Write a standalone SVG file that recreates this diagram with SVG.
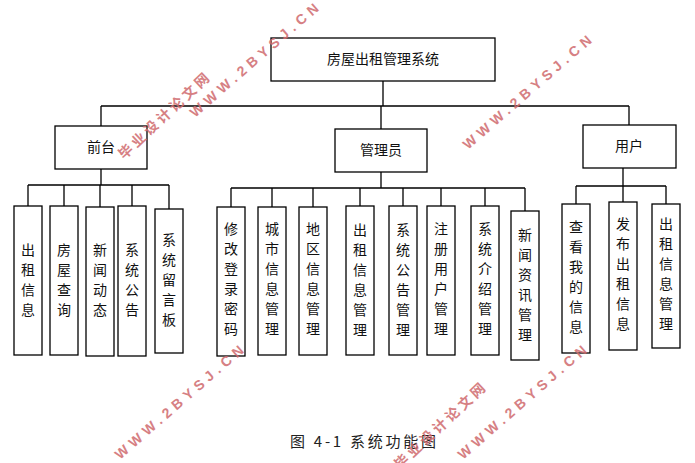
<svg xmlns="http://www.w3.org/2000/svg" width="695" height="463" viewBox="0 0 695 463">
<style>
.b{fill:#fff;stroke:#000;stroke-width:1.3}
.t{font-family:"Noto Sans CJK SC",sans-serif;font-size:14px;fill:#111;text-anchor:middle}
.v{font-family:"Noto Sans CJK SC",sans-serif;font-size:14px;fill:#111;text-anchor:middle}
.c{fill:none;stroke:#000;stroke-width:1.3}
.w{font-family:"Liberation Sans",sans-serif;font-weight:bold;font-size:14px;fill:#d06a6e;opacity:0.85}
.wc{font-family:"Noto Sans CJK SC",sans-serif;font-weight:bold;font-size:14px;fill:#d06a6e;opacity:0.85}
</style>
<rect width="695" height="463" fill="#fff"/>
<g id="connectors">
<path class="c" d="M383 81V106M101 106H629M101 106V126M381 106V129M629 106V125"/>
<path class="c" d="M101 169V185M28 185H169M28 185V206M64 185V206M100 185V207M132 185V206M169 185V209"/>
<path class="c" d="M381 172V188M231 188H525M231 188V207M272 188V207M313 188V207M360 188V206M403 188V206M441 188V206M485 188V206M525 188V211"/>
<path class="c" d="M623 168V186M576 186H666M576 186V204M623 186V202M666 186V204"/>
</g>
<g id="root"><rect class="b" x="271" y="38" width="224" height="43"/><text class="t" x="383" y="64">房屋出租管理系统</text></g>
<g id="qiantai"><rect class="b" x="55" y="126" width="92" height="43"/><text class="t" x="101" y="152">前台</text></g>
<g id="admin"><rect class="b" x="335" y="129" width="92" height="43"/><text class="t" x="381" y="155">管理员</text></g>
<g id="user"><rect class="b" x="583" y="125" width="93" height="43"/><text class="t" x="629" y="151">用户</text></g>
<g id="n1"><rect class="b" x="14" y="206" width="28" height="149"/><text class="v" x="28"><tspan x="28" y="255">出</tspan><tspan x="28" y="275">租</tspan><tspan x="28" y="295">信</tspan><tspan x="28" y="315">息</tspan></text></g>
<g id="n2"><rect class="b" x="50" y="206" width="28" height="149"/><text class="v"><tspan x="64" y="255">房</tspan><tspan x="64" y="275">屋</tspan><tspan x="64" y="295">查</tspan><tspan x="64" y="315">询</tspan></text></g>
<g id="n3"><rect class="b" x="86" y="207" width="28" height="149"/><text class="v"><tspan x="100" y="255">新</tspan><tspan x="100" y="275">闻</tspan><tspan x="100" y="295">动</tspan><tspan x="100" y="315">态</tspan></text></g>
<g id="n4"><rect class="b" x="118" y="206" width="28" height="150"/><text class="v"><tspan x="132" y="255">系</tspan><tspan x="132" y="275">统</tspan><tspan x="132" y="295">公</tspan><tspan x="132" y="315">告</tspan></text></g>
<g id="n5"><rect class="b" x="155" y="209" width="28" height="144"/><text class="v"><tspan x="169" y="245">系</tspan><tspan x="169" y="265">统</tspan><tspan x="169" y="285">留</tspan><tspan x="169" y="305">言</tspan><tspan x="169" y="325">板</tspan></text></g>
<g id="a1"><rect class="b" x="217" y="207" width="28" height="149"/><text class="v"><tspan x="231" y="234">修</tspan><tspan x="231" y="254">改</tspan><tspan x="231" y="274">登</tspan><tspan x="231" y="294">录</tspan><tspan x="231" y="314">密</tspan><tspan x="231" y="334">码</tspan></text></g>
<g id="a2"><rect class="b" x="258" y="207" width="28" height="148"/><text class="v"><tspan x="272" y="234">城</tspan><tspan x="272" y="254">市</tspan><tspan x="272" y="274">信</tspan><tspan x="272" y="294">息</tspan><tspan x="272" y="314">管</tspan><tspan x="272" y="334">理</tspan></text></g>
<g id="a3"><rect class="b" x="299" y="207" width="28" height="148"/><text class="v"><tspan x="313" y="234">地</tspan><tspan x="313" y="254">区</tspan><tspan x="313" y="274">信</tspan><tspan x="313" y="294">息</tspan><tspan x="313" y="314">管</tspan><tspan x="313" y="334">理</tspan></text></g>
<g id="a4"><rect class="b" x="346" y="206" width="28" height="149"/><text class="v"><tspan x="360" y="235">出</tspan><tspan x="360" y="255">租</tspan><tspan x="360" y="275">信</tspan><tspan x="360" y="295">息</tspan><tspan x="360" y="315">管</tspan><tspan x="360" y="335">理</tspan></text></g>
<g id="a5"><rect class="b" x="389" y="206" width="28" height="149"/><text class="v"><tspan x="403" y="235">系</tspan><tspan x="403" y="255">统</tspan><tspan x="403" y="275">公</tspan><tspan x="403" y="295">告</tspan><tspan x="403" y="315">管</tspan><tspan x="403" y="335">理</tspan></text></g>
<g id="a6"><rect class="b" x="427" y="206" width="28" height="149"/><text class="v"><tspan x="441" y="234">注</tspan><tspan x="441" y="254">册</tspan><tspan x="441" y="274">用</tspan><tspan x="441" y="294">户</tspan><tspan x="441" y="314">管</tspan><tspan x="441" y="334">理</tspan></text></g>
<g id="a7"><rect class="b" x="471" y="206" width="28" height="149"/><text class="v"><tspan x="485" y="234">系</tspan><tspan x="485" y="254">统</tspan><tspan x="485" y="274">介</tspan><tspan x="485" y="294">绍</tspan><tspan x="485" y="314">管</tspan><tspan x="485" y="334">理</tspan></text></g>
<g id="a8"><rect class="b" x="511" y="211" width="28" height="149"/><text class="v"><tspan x="525" y="240">新</tspan><tspan x="525" y="260">闻</tspan><tspan x="525" y="280">资</tspan><tspan x="525" y="300">讯</tspan><tspan x="525" y="320">管</tspan><tspan x="525" y="340">理</tspan></text></g>
<g id="u1"><rect class="b" x="562" y="204" width="28" height="149"/><text class="v"><tspan x="576" y="232">查</tspan><tspan x="576" y="252">看</tspan><tspan x="576" y="272">我</tspan><tspan x="576" y="292">的</tspan><tspan x="576" y="312">信</tspan><tspan x="576" y="332">息</tspan></text></g>
<g id="u2"><rect class="b" x="609" y="202" width="28" height="148"/><text class="v"><tspan x="623" y="229">发</tspan><tspan x="623" y="249">布</tspan><tspan x="623" y="269">出</tspan><tspan x="623" y="289">租</tspan><tspan x="623" y="309">信</tspan><tspan x="623" y="329">息</tspan></text></g>
<g id="u3"><rect class="b" x="652" y="204" width="28" height="144"/><text class="v"><tspan x="666" y="229">出</tspan><tspan x="666" y="249">租</tspan><tspan x="666" y="269">信</tspan><tspan x="666" y="289">息</tspan><tspan x="666" y="309">管</tspan><tspan x="666" y="329">理</tspan></text></g>
<text x="290" y="447" textLength="146" style="font-family:'Noto Sans CJK SC',serif;font-size:15px;fill:#222">图 4-1 系统功能图</text>
<g id="watermarks">
<text class="w" transform="translate(195,118) rotate(-41)" textLength="165">WWW.2BYSJ.CN</text>
<text class="wc" transform="translate(124,160) rotate(-43)" textLength="118">毕业设计论文网</text>
<text class="w" transform="translate(468,150) rotate(-41)" textLength="165">WWW.2BYSJ.CN</text>
<text class="w" transform="translate(120,460) rotate(-41)" textLength="165">WWW.2BYSJ.CN</text>
<text class="w" transform="translate(463,460) rotate(-41)" textLength="165">WWW.2BYSJ.CN</text>
<text class="wc" transform="translate(400,470) rotate(-43)" textLength="118">毕业设计论文网</text>
</g>
</svg>
